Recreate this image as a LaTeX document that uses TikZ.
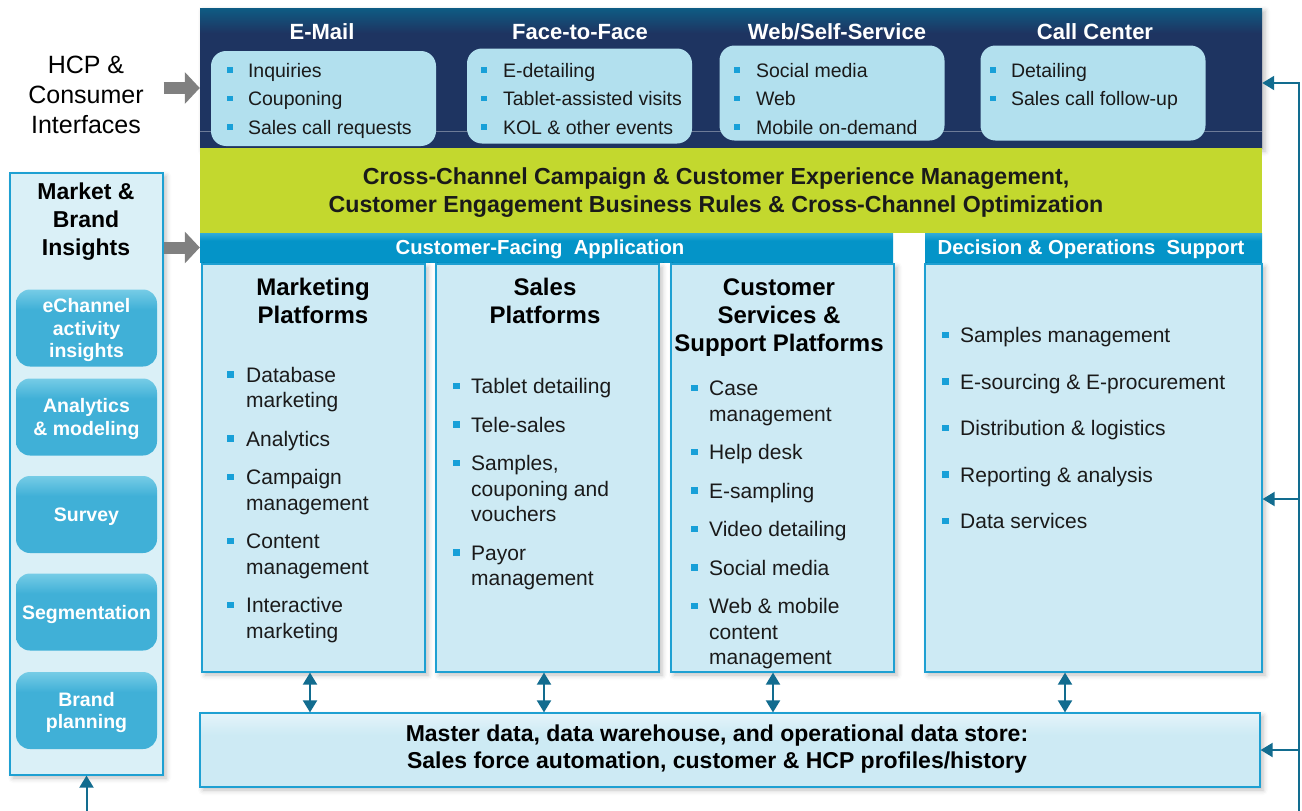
\documentclass[tikz,border=0pt]{standalone}
\usepackage{fontspec}
\setmainfont{Liberation Sans}
\usetikzlibrary{arrows.meta, positioning, calc, shadows.blur}

\definecolor{navy}{RGB}{30,52,97}
\definecolor{navytop}{RGB}{14,92,132}
\definecolor{chanfill}{RGB}{178,224,238}
\definecolor{bullet}{RGB}{24,160,216}
\definecolor{lime}{RGB}{195,216,46}
\definecolor{barblue}{RGB}{4,148,200}
\definecolor{bartop}{RGB}{50,172,215}
\definecolor{platfill}{RGB}{205,234,244}
\definecolor{plattop}{RGB}{228,244,250}
\definecolor{platline}{RGB}{30,160,210}
\definecolor{panelfill}{RGB}{218,240,247}
\definecolor{btnfill}{RGB}{64,176,215}
\definecolor{btntop}{RGB}{118,204,230}
\definecolor{linkcol}{RGB}{18,108,143}
\definecolor{grayarrow}{RGB}{128,128,128}
\definecolor{ink}{RGB}{26,26,26}

\pgfdeclareverticalshading{navyfade}{100bp}{color(0bp)=(navy); color(25bp)=(navy); color(66bp)=(navy); color(75bp)=(navytop); color(100bp)=(navytop)}
\pgfdeclareverticalshading{btnfade}{100bp}{color(0bp)=(btnfill); color(25bp)=(btnfill); color(62bp)=(btnfill); color(75bp)=(btntop); color(100bp)=(btntop)}
\pgfdeclareverticalshading{barfade}{100bp}{color(0bp)=(barblue); color(25bp)=(barblue); color(62bp)=(barblue); color(75bp)=(bartop); color(100bp)=(bartop)}
\pgfdeclareverticalshading{mdmfade}{100bp}{color(0bp)=(platfill); color(25bp)=(platfill); color(60bp)=(platfill); color(75bp)=(plattop); color(100bp)=(plattop)}

% square bullets and small list helpers
\newcommand{\bsq}{\textcolor{bullet}{\rule[0.21em]{0.3em}{0.3em}}}
\newcommand{\blist}[2]{\begin{tabular}[t]{@{}l@{\hspace{#1}}l@{}}#2\end{tabular}}
\newcommand{\ctab}[1]{\begin{tabular}[t]{@{}c@{}}#1\end{tabular}}

\begin{document}
\begin{tikzpicture}[x=1pt, y=-1pt,
    every node/.style={inner sep=0pt},
    chanbox/.style={rectangle, rounded corners=15pt, fill=chanfill, minimum width=225pt, minimum height=95pt},
    chantitle/.style={anchor=base, text=white, font=\fontsize{22}{26}\selectfont\bfseries},
    chanlist/.style={anchor=base west, text=ink, font=\fontsize{19.5}{28.5}\selectfont},
    bandtext/.style={anchor=base, text=ink, font=\fontsize{23.2}{28}\selectfont\bfseries},
    bar/.style={rectangle, shading=barfade, minimum height=29pt},
    bartext/.style={anchor=base, text=white, font=\fontsize{20.3}{22}\selectfont\bfseries},
    platform/.style={rectangle, draw=platline, line width=1.2pt, fill=platfill, minimum height=408pt,
        blur shadow={shadow xshift=3pt, shadow yshift=-3pt, shadow blur radius=5pt, shadow opacity=25}},
    plattitle/.style={anchor=base, text=black, font=\fontsize{24}{28}\selectfont\bfseries},
    platlist/.style={anchor=base west, text=ink, font=\fontsize{21}{25.5}\selectfont},
    btn/.style={rectangle, rounded corners=14pt, shading=btnfade, minimum width=141pt, minimum height=77pt,
        text=white, align=center, text depth=0pt, font=\fontsize{19.5}{22.5}\selectfont\bfseries},
    link/.style={draw=linkcol, line width=2pt, -{Triangle[length=12pt,width=14pt]}},
    dlink/.style={draw=linkcol, line width=2pt, {Triangle[length=12pt,width=14pt]}-{Triangle[length=12pt,width=14pt]}},
    biglink/.style={draw=grayarrow, line width=12pt, -{Triangle[length=15pt,width=31pt]}}
]
\useasboundingbox (0,0) rectangle (1302,811);

% interfaces strip with the four channels
\node[rectangle, shading=navyfade, minimum width=1062pt, minimum height=140pt,
    blur shadow={shadow xshift=3pt, shadow yshift=-3pt, shadow blur radius=5pt, shadow opacity=25}] (chan) at (731,78) {};
\coordinate (chan-rule) at (731,131);
\draw[navy!65!white, line width=0.6pt] (chan.west |- chan-rule) -- (chan.east |- chan-rule);

\node[chanbox] (mail) at (323.5,98.5) {};
\node[chanbox] (f2f) at (579.5,96) {};
\node[chanbox] (web) at (832,93) {};
\node[chanbox] (call) at (1093,93) {};

\node[chantitle] (mail-t) at (322,39) {E-Mail};
\node[chantitle] (f2f-t) at (580,39) {Face-to-Face};
\node[chantitle] (web-t) at (837,39) {Web/Self-Service};
\node[chantitle] (call-t) at (1095,39) {Call Center};

\node[chanlist] (mail-l) at (227,77) {\blist{15pt}{\bsq & Inquiries\\ \bsq & Couponing\\ \bsq & Sales call requests}};
\node[chanlist] (f2f-l) at (481,77) {\blist{16pt}{\bsq & E-detailing\\ \bsq & Tablet-assisted visits\\ \bsq & KOL \& other events}};
\node[chanlist] (web-l) at (734,77) {\blist{16pt}{\bsq & Social media\\ \bsq & Web\\ \bsq & Mobile on-demand}};
\node[chanlist] (call-l) at (990,77) {\blist{15pt}{\bsq & Detailing\\ \bsq & Sales call follow-up}};

% campaign management band
\node[rectangle, fill=lime, minimum width=1062pt, minimum height=85pt] (ccm) at (731,190.5) {};
\node[bandtext] (ccm-t) at (716,184) {\ctab{Cross-Channel Campaign \& Customer Experience Management,\\
    Customer Engagement Business Rules \& Cross-Channel Optimization}};

% application bars
\node[bar, minimum width=693pt] (cfa) at (546.5,247.5) {};
\node[bar, minimum width=337pt] (dos-b) at (1093.5,247.5) {};
\node[bartext] (cfa-t) at (540,254) {Customer-Facing\ \ Application};
\node[bartext] (dos-t) at (1091,254) {Decision \& Operations\ \ Support};

% platform columns
\node[platform, minimum width=223pt] (mkt) at (313.5,468) {};
\node[platform, minimum width=223pt] (sal) at (547.5,468) {};
\node[platform, minimum width=223pt] (csp) at (782.5,468) {};
\node[platform, minimum width=337pt] (dos) at (1093.5,468) {};

\node[plattitle] (mkt-t) at (313,295) {\ctab{Marketing\\ Platforms}};
\node[plattitle] (sal-t) at (545,295) {\ctab{Sales\\ Platforms}};
\node[plattitle] (csp-t) at (779,295) {\ctab{Customer\\ Services \&\\ Support Platforms}};

\node[platlist] (mkt-l) at (227,382) {\blist{12.7pt}{\bsq & Database\\ & marketing\\[13pt]
    \bsq & Analytics\\[13pt]
    \bsq & Campaign\\ & management\\[13pt]
    \bsq & Content\\ & management\\[13pt]
    \bsq & Interactive\\ & marketing}};
\node[platlist] (sal-l) at (453,393.5) {\blist{11.7pt}{\bsq & Tablet detailing\\[13pt]
    \bsq & Tele-sales\\[13pt]
    \bsq & Samples,\\ & couponing and\\ & vouchers\\[13pt]
    \bsq & Payor\\ & management}};
\node[platlist] (csp-l) at (691,395.5) {\blist{11.7pt}{\bsq & Case\\ & management\\[13pt]
    \bsq & Help desk\\[13pt]
    \bsq & E-sampling\\[13pt]
    \bsq & Video detailing\\[13pt]
    \bsq & Social media\\[13pt]
    \bsq & Web \& mobile\\ & content\\ & management}};
\node[platlist] (dos-l) at (942,342.5) {\blist{11.7pt}{\bsq & Samples management\\[21pt]
    \bsq & E-sourcing \& E-procurement\\[21pt]
    \bsq & Distribution \& logistics\\[21pt]
    \bsq & Reporting \& analysis\\[21pt]
    \bsq & Data services}};

% data layer
\node[platform, minimum width=1060pt, minimum height=74pt, shading=mdmfade] (mdm) at (730,750) {};
\node[bandtext, text=black, font=\fontsize{23}{27.5}\selectfont\bfseries] (mdm-t) at (717,741)
    {\ctab{Master data, data warehouse, and operational data store:\\
    Sales force automation, customer \& HCP profiles/history}};

\foreach \c/\dx in {mkt/-3.5, sal/-3.5, csp/-9.5, dos/-28.5}
    \draw[dlink] ([xshift=\dx pt]\c.south) coordinate (\c-x) -- (\c-x |- mdm.north);

% insights panel on the left
\node[rectangle, draw=platline, line width=1.2pt, fill=panelfill, minimum width=153pt, minimum height=602pt,
    blur shadow={shadow xshift=3pt, shadow yshift=-3pt, shadow blur radius=5pt, shadow opacity=25}] (mbi) at (86.5,474) {};
\node[plattitle, font=\fontsize{23}{28}\selectfont\bfseries] (mbi-t) at (86,199) {\ctab{Market \&\\ Brand\\ Insights}};

\foreach \yc/\txt/\nm in {328/{eChannel\\activity\\insights}/ech, 417/{Analytics\\\& modeling}/ana,
        514.5/{Survey}/srv, 612/{Segmentation}/seg, 710.5/{Brand\\planning}/brp}
    \node[btn] (\nm) at (86.5,\yc) {\txt};

\node[anchor=base, font=\fontsize{25}{30}\selectfont] (hcp) at (86,73) {\ctab{HCP \&\\ Consumer\\ Interfaces}};

% inputs into the strip and the application layer
\coordinate (hcp-in) at (200,88);
\draw[biglink] (mbi.east |- hcp-in) -- (chan.west |- hcp-in);
\draw[biglink] (mbi.east |- cfa.west) -- (cfa.west);

% feedback bus on the right and below
\coordinate (bus-bot) at (1299,811);
\coordinate (bus-top) at (1299,83);
\coordinate (bus-dos) at (1299,499);
\draw[link] (bus-bot) -- (bus-top) -- (bus-top -| chan.east);
\draw[link] (bus-dos) -- (bus-dos -| dos.east);
\draw[link] (bus-bot |- mdm.east) -- (mdm.east);
\coordinate (mbi-in) at (86.5,811);
\draw[link] (mbi-in) -- (mbi.south);

\end{tikzpicture}
\end{document}
